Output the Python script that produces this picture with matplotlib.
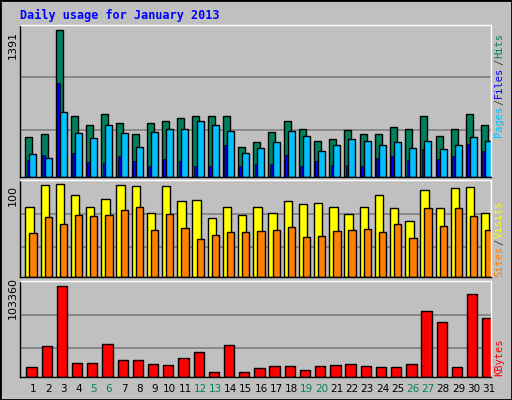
import matplotlib
matplotlib.use("Agg")
import matplotlib.pyplot as plt
import numpy as np

days = list(range(1, 32))
hits = [382,401,1391,580,495,599,514,401,505,533,561,580,571,571,287,334,429,524,457,344,363,448,410,401,476,457,580,391,457,590,495]
files = [221,183,609,419,372,495,419,287,429,457,457,524,495,438,230,278,334,438,391,249,306,363,344,306,334,278,344,268,306,382,344]
pages = [164,211,883,230,145,136,202,155,107,173,155,107,107,306,107,126,126,211,107,155,117,117,107,183,202,164,268,173,202,315,249]
visits = [75,99,100,88,75,84,99,98,69,98,82,83,63,75,67,75,69,82,78,79,75,68,75,88,74,60,93,74,96,97,69]
sites = [47,64,57,67,65,67,72,75,50,68,53,41,45,48,48,49,50,54,43,44,49,51,52,48,57,42,74,55,74,66,51]
kbytes = [11694,35460,103360,16220,16220,37720,19615,19615,15090,13957,21880,28670,6035,36590,6035,10563,12826,12826,8300,12826,13957,15090,12826,11694,11694,15090,75070,62620,11694,94300,67150]
weekend = {5,6,12,13,19,20,26,27}

W, H = 512, 400
fig = plt.figure(figsize=(W/100, H/100), dpi=100, facecolor="#C0C0C0")
fig.patches.append(plt.Rectangle((0, 0), 1, 1, transform=fig.transFigure, fill=False, edgecolor="black", lw=2))
mono = "DejaVu Sans Mono"

def ax_at(x0, y0, x1, y1):
    return fig.add_axes([x0/W, 1-y1/H, (x1-x0)/W, (y1-y0)/H], facecolor="#C0C0C0")

x = np.array(days)
def style(ax, ymax, frac_top):
    ax.set_xlim(0.14, 31.14)
    ax.set_ylim(0, ymax/frac_top)
    for f in (0.32, 0.68):
        ax.axhline(ymax*f, color="#808080", lw=1.2, zorder=0)
    ax.set_xticks([]); ax.set_yticks([])
    for s in ax.spines.values():
        s.set_color("black"); s.set_linewidth(1)
    ax.spines["top"].set_color("white"); ax.spines["right"].set_color("white")

ek = dict(edgecolor="black", linewidth=1, align="edge")
a1 = ax_at(20, 25, 491, 177)
style(a1, 1391, 0.97)
a1.bar(x-0.51, hits, 0.46, color="#00805C", **ek)
a1.bar(x-0.42, pages, 0.18, color="#0000FF", edgecolor="black", linewidth=0.5, align="edge")
a1.bar(x-0.24, files, 0.46, color="#00C0FF", **ek)

a2 = ax_at(20, 180, 491, 277)
style(a2, 100, 0.96)
a2.bar(x-0.51, visits, 0.55, color="#FFFF00", **ek)
a2.bar(x-0.24, sites, 0.48, color="#FF8000", **ek)

a3 = ax_at(20, 281, 491, 377)
style(a3, 103360, 0.95)
a3.bar(x-0.44, kbytes, 0.68, color="#FF0000", **ek)

for d in days:
    fig.text((20 + (d-0.14)/31*471)/W, 1-389/H, str(d), ha="center", va="center",
             fontsize=7.5, color="#00805C" if d in weekend else "black")

fig.text(20/W, 1-15/H, "Daily usage for January 2013", fontsize=8.5, fontweight="bold",
         color="#0000FF", family=mono, va="center")
for yy, s in ((45, "1391"), (196, "100"), (298, "103360")):
    fig.text(13/W, 1-yy/H, s, rotation=90, fontsize=8, ha="center", va="center")

fig.canvas.draw()
rend = fig.canvas.get_renderer()
def vlabel(parts, ybot):
    y = ybot
    for s, c in parts:
        t = fig.text(499/W, 1-y/H, s, rotation=90, fontsize=7.5, color=c, family=mono,
                     ha="center", va="bottom")
        bb = t.get_window_extent(rend)
        y -= bb.height + 1
vlabel([("Pages", "#00C0FF"), ("/", "#404040"), ("Files", "#0000FF"), ("/", "#404040"), ("Hits", "#00805C")], 137)
vlabel([("Sites", "#FF8000"), ("/", "#404040"), ("Visits", "#FFFF00")], 277)
vlabel([("KBytes", "#FF0000")], 376)

fig.savefig("out.png", dpi=100, facecolor=fig.get_facecolor())
